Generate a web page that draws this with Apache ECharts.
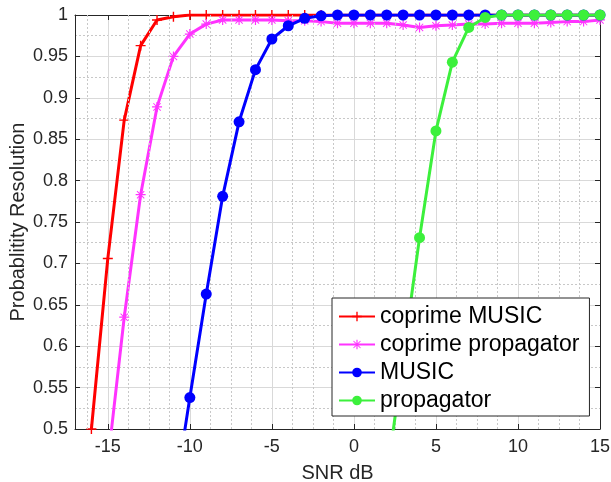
<!DOCTYPE html>
<html lang="en">
<head>
    <meta charset="UTF-8">
    <title>Probability Resolution vs SNR</title>
    <script src="https://cdn.jsdelivr.net/npm/echarts@6.0.0/dist/echarts.min.js"></script>
    <style>
        html, body { margin: 0; padding: 0; background: #fff; }
    </style>
</head>
<body>
<div id="main" style="width: 611px;height:482px;"></div>
<script>
    // SNR points (dB)
    var snr = [-16, -15, -14, -13, -12, -11, -10, -9, -8, -7, -6, -5, -4, -3, -2, -1,
        0, 1, 2, 3, 4, 5, 6, 7, 8, 9, 10, 11, 12, 13, 14, 15];

    var coprimeMusic = [0.5, 0.706, 0.873, 0.963, 0.994, 0.998, 1, 1, 1, 1, 1, 1, 1, 1, 1, 1,
        1, 1, 1, 1, 1, 1, 1, 1, 1, 1, 1, 1, 1, 1, 1, 1];
    var coprimePropagator = [null, 0.46, 0.635, 0.783, 0.889, 0.950, 0.977, 0.989, 0.994, 0.994, 0.994, 0.994, 0.993, 0.993, 0.992, 0.990,
        0.990, 0.990, 0.990, 0.988, 0.985, 0.987, 0.988, 0.989, 0.989, 0.990, 0.990, 0.990, 0.991, 0.992, 0.992, 0.994];
    var music = [null, null, null, null, null, 0.41, 0.538, 0.663, 0.781, 0.871, 0.934, 0.971, 0.987, 0.996, 0.999, 1,
        1, 1, 1, 1, 1, 1, 1, 1, 1, 1, 1, 1, 1, 1, 1, 1];
    var propagator = [null, null, null, null, null, null, null, null, null, null, null, null, null, null, null, null,
        null, null, 0.44, 0.587, 0.731, 0.860, 0.943, 0.985, 0.997, 1, 1, 1, 1, 1, 1, 1];

    // tick labels
    var xTicks = [-15, -10, -5, 0, 5, 10, 15];
    var xMinorTicks = [-16.25, -13.75, -12.5, -11.25, -8.75, -7.5, -6.25, -3.75, -2.5, -1.25,
        1.25, 2.5, 3.75, 6.25, 7.5, 8.75, 11.25, 12.5, 13.75];

    var axisColor = '#262626';
    var plusSymbol = 'path://M4.3,0H5.7V4.3H10V5.7H5.7V10H4.3V5.7H0V4.3H4.3Z';
    var starSymbol = 'path://M4.4,0H5.6V10H4.4Z M0,4.4H10V5.6H0Z M1.7,1L9,8.3L8.3,9L1,1.7Z M8.3,1L9,1.7L1.7,9L1,8.3Z';

    function pairs(vals) {
        var out = [];
        for (var i = 0; i < snr.length; i++) {
            if (vals[i] !== null) out.push([snr[i], vals[i]]);
        }
        return out;
    }

    var myChart = echarts.init(document.getElementById('main'));

    var tickFont = {fontSize: 18, color: axisColor, fontFamily: 'Liberation Sans, Arial, sans-serif'};

    var option = {
        animation: false,
        backgroundColor: '#fff',
        grid: {left: 75, right: 11, top: 15, bottom: 53, outerBoundsMode: 'none', containLabel: false},
        legend: {
            orient: 'vertical',
            left: 332,
            top: 298,
            z: 20,
            itemWidth: 36,
            itemHeight: 12,
            itemGap: 5,
            padding: [7, 10, 4, 6],
            borderColor: axisColor,
            borderWidth: 1,
            borderRadius: 0,
            backgroundColor: '#fff',
            textStyle: {fontSize: 23, color: '#000', fontFamily: 'Liberation Sans, Arial, sans-serif'},
            data: ['coprime MUSIC', 'coprime propagator', 'MUSIC', 'propagator']
        },
        xAxis: [{
            type: 'value',
            min: -17,
            max: 15,
            name: 'SNR dB',
            nameLocation: 'middle',
            nameGap: 34,
            nameMoveOverlap: false,
            nameTextStyle: {fontSize: 20, color: axisColor, fontFamily: 'Liberation Sans, Arial, sans-serif'},
            axisLine: {show: true, onZero: false, lineStyle: {color: axisColor, width: 1}},
            axisTick: {show: true, inside: true, length: 5, customValues: xTicks, lineStyle: {color: axisColor}},
            axisLabel: Object.assign({margin: 9, customValues: xTicks}, tickFont),
            splitLine: {show: true, lineStyle: {color: '#d9d9d9', width: 1}}
        }, {
            type: 'value',
            position: 'top',
            min: -17,
            max: 15,
            axisLine: {show: true, onZero: false, lineStyle: {color: axisColor, width: 1}},
            axisTick: {show: true, inside: true, length: 5, customValues: xTicks, lineStyle: {color: axisColor}},
            axisLabel: {show: false},
            splitLine: {show: false}
        }],
        yAxis: [{
            type: 'value',
            min: 0.5,
            max: 1,
            interval: 0.05,
            name: 'Probablitity Resolution',
            nameLocation: 'middle',
            nameGap: 47,
            nameMoveOverlap: false,
            nameTextStyle: {fontSize: 20, color: axisColor, fontFamily: 'Liberation Sans, Arial, sans-serif'},
            axisLine: {show: true, onZero: false, lineStyle: {color: axisColor, width: 1}},
            axisTick: {show: true, inside: true, length: 5, lineStyle: {color: axisColor}},
            axisLabel: Object.assign({
                margin: 7,
                formatter: function (v) { return String(Math.round(v * 100) / 100); }
            }, tickFont),
            splitLine: {show: true, lineStyle: {color: '#d9d9d9', width: 1}},
            minorTick: {show: false, splitNumber: 2},
            minorSplitLine: {show: true, lineStyle: {color: '#c8c8c8', type: [2, 2], width: 1}}
        }, {
            type: 'value',
            position: 'right',
            min: 0.5,
            max: 1,
            interval: 0.05,
            axisLine: {show: true, onZero: false, lineStyle: {color: axisColor, width: 1}},
            axisTick: {show: true, inside: true, length: 5, lineStyle: {color: axisColor}},
            axisLabel: {show: false},
            splitLine: {show: false}
        }],
        series: [
            {
                // minor vertical grid lines
                type: 'line',
                data: [],
                silent: true,
                z: 1,
                markLine: {
                    silent: true,
                    symbol: 'none',
                    label: {show: false},
                    animation: false,
                    lineStyle: {color: '#c8c8c8', type: [2, 2], width: 1},
                    data: xMinorTicks.map(function (v) { return {xAxis: v}; })
                }
            },
            {
                name: 'coprime MUSIC',
                type: 'line',
                z: 3,
                data: pairs(coprimeMusic),
                color: '#ff0000',
                lineStyle: {width: 3},
                symbol: plusSymbol,
                symbolSize: 10,
                showAllSymbol: true
            },
            {
                name: 'coprime propagator',
                type: 'line',
                z: 4,
                data: pairs(coprimePropagator),
                color: '#ff33ff',
                lineStyle: {width: 3},
                symbol: starSymbol,
                symbolSize: 10,
                showAllSymbol: true
            },
            {
                name: 'MUSIC',
                type: 'line',
                z: 5,
                data: pairs(music),
                color: '#0000ff',
                lineStyle: {width: 3},
                symbol: 'circle',
                symbolSize: 11,
                showAllSymbol: true
            },
            {
                name: 'propagator',
                type: 'line',
                z: 6,
                data: pairs(propagator),
                color: '#3cf03c',
                lineStyle: {width: 3},
                symbol: 'circle',
                symbolSize: 11,
                showAllSymbol: true
            }
        ]
    };

    myChart.setOption(option);
</script>
</body>
</html>
